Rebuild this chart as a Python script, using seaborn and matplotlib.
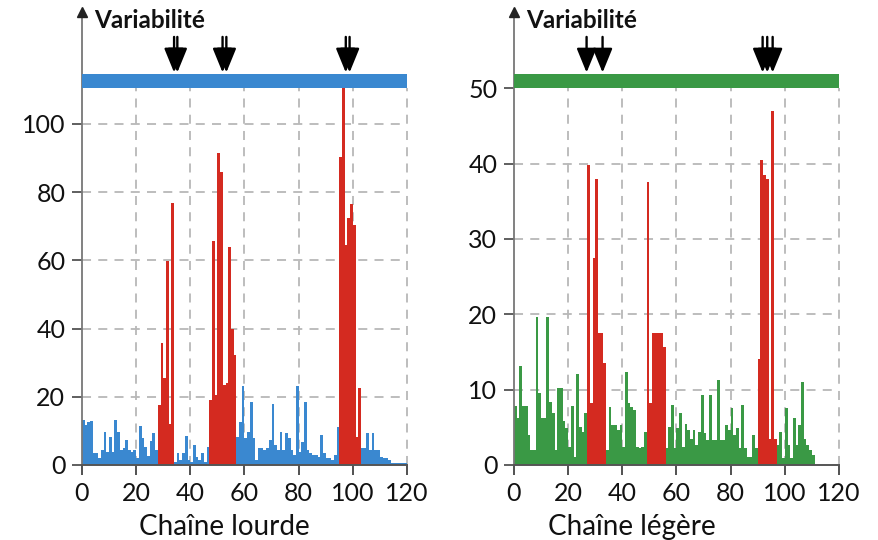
import numpy as np
import pandas as pd
import matplotlib
matplotlib.use("Agg")
import matplotlib.pyplot as plt
import seaborn as sns

# ---------------- data ----------------
x_ticks = [0, 20, 40, 60, 80, 100, 120]

heavy_values = [
    13.2, 11.8, 12.7, 13.0, 3.4, 3.4, 2.0, 4.4, 9.8, 3.9, 8.3, 3.9, 13.2, 9.8,
    4.4, 4.9, 7.4, 4.4, 3.9, 4.4, 2.0, 11.3, 7.8, 5.4, 2.6, 6.9, 9.3, 4.4,
    17.6, 35.9, 25.4, 59.9, 12.0, 76.7,
    1.0, 3.4, 1.5, 3.4, 8.5, 1.5, 1.0, 5.9, 2.4, 1.5, 3.4, 1.0, 5.4,
    19.0, 65.7, 20.5, 91.6, 86.0, 23.5, 24.0, 63.8, 40.0, 32.3,
    8.3, 12.7, 23.2, 7.8, 9.8, 18.6, 7.8, 1.5, 4.9, 4.9, 4.4, 4.9, 7.3, 18.0,
    5.9, 4.4, 9.8, 4.4, 9.3, 7.8, 4.4, 2.9, 23.2, 3.9, 6.8, 18.6, 4.4, 3.4,
    2.9, 2.9, 2.4, 8.8, 3.4, 2.0, 2.0, 1.5, 2.9, 11.2,
    90.2, 110.5, 64.5, 72.3, 76.5, 70.4, 8.3, 22.5,
    5.0, 5.0, 9.3, 4.5, 9.3, 4.4, 4.4, 2.4, 2.0, 2.0, 1.5, 0.5, 0.5, 0.5, 0.5,
    0.5, 0.5,
]
heavy_hypervariable = [(28, 33), (47, 56), (95, 102)]
heavy_arrows = [34.0, 35.2, 51.9, 53.3, 97.4, 98.8]
heavy_y_ticks = [0, 20, 40, 60, 80, 100]
heavy_band = (110.6, 114.7)
heavy_ymax = 132.8

light_values = [
    7.8, 6.2, 13.1, 7.8, 7.8, 4.0, 2.0, 2.0, 19.6, 9.5, 6.2, 6.2, 19.6, 8.4,
    6.9, 2.0, 10.2, 10.2, 5.8, 4.9, 2.4, 7.8, 1.1, 12.1, 5.1, 4.4, 6.9,
    39.8, 8.2, 27.4, 37.9, 17.5, 17.5, 13.5,
    2.0, 7.7, 5.3, 5.3, 4.6, 5.3, 2.4, 12.3, 8.2, 7.7, 7.3, 2.4, 2.2, 2.4, 4.4,
    37.6, 8.2, 17.5, 17.5, 17.5, 17.5, 15.7,
    2.2, 5.1, 8.0, 2.2, 4.9, 6.9, 2.4, 5.5, 4.6, 3.5, 4.6, 2.7, 4.4, 9.3, 4.2,
    3.3, 9.3, 3.3, 3.3, 11.3, 3.3, 3.3, 5.3, 4.6, 7.5, 4.0, 4.9, 2.2, 8.0, 2.2,
    1.1, 1.1, 4.0, 2.2,
    14.0, 40.5, 38.5, 38.0, 3.5, 47.0, 3.5,
    2.7, 4.4, 0.9, 7.5, 2.7, 0.9, 6.3, 2.7, 5.3, 11.0, 3.5, 2.7, 2.0, 1.3,
]
light_hypervariable = [(27, 33), (49, 55), (90, 96)]
light_arrows = [26.8, 32.7, 91.8, 93.5, 95.5]
light_y_ticks = [0, 10, 20, 30, 40, 50]
light_band = (50.0, 51.9)
light_ymax = 60.1

titles = ["Chaîne lourde", "Chaîne légère"]
band_label = "Variabilité"

# ---------------- style ----------------
RED = "#d42a20"
BLUE = "#3a88d0"
GREEN = "#3a9945"
GRID = "#b8b8b8"

sns.set_style("white")
plt.rcParams["font.family"] = ["Lato", "DejaVu Sans"]

fig = plt.figure(figsize=(8.79, 5.40), dpi=100)
W, H = 879, 540
ax_l = fig.add_axes([82 / W, 1 - 465 / H, 325 / W, 453 / H])
ax_r = fig.add_axes([514 / W, 1 - 465 / H, 325 / W, 453 / H])


def draw_panel(ax, values, hyper, color, band, yticks, ymax, arrows, title, title_x):
    pos = np.arange(len(values)) + 0.5
    region = ["FR"] * len(values)
    for a, b in hyper:
        for i in range(a, b + 1):
            region[i] = "CDR"
    df = pd.DataFrame({"pos": pos, "val": list(values), "region": region})
    sns.histplot(data=df, x="pos", weights="val", hue="region",
                 hue_order=["FR", "CDR"], palette={"FR": color, "CDR": RED},
                 binwidth=1, binrange=(0, 120), multiple="layer", alpha=1,
                 linewidth=0, legend=False, ax=ax, zorder=2)
    ax.set_xlim(0, 120)
    ax.set_ylim(0, ymax)

    # dashed grid
    for y in yticks[1:]:
        if y < band[0]:
            ax.plot([0, 120], [y, y], color=GRID, lw=1.3, ls=(0, (5, 4)), zorder=1)
    for x in x_ticks[1:]:
        ax.plot([x, x], [0, band[0]], color=GRID, lw=1.3, ls=(0, (5, 4)),
                zorder=1, clip_on=False)

    # coloured band
    ax.axhspan(band[0], band[1], color=color, zorder=3, lw=0)

    # arrows
    ytop = ymax * 0.945
    ytip = band[1] + (ymax - band[1]) * 0.02
    for x in arrows:
        ax.annotate("", xy=(x, ytip), xytext=(x, ytop),
                    arrowprops=dict(arrowstyle="-|>,head_length=1.1,head_width=0.45",
                                    lw=1.7, color="black", shrinkA=0, shrinkB=0,
                                    mutation_scale=13.5), zorder=4)

    ax.text(4.5, ymax * 0.982, band_label, fontsize=17.5, fontweight="bold",
            ha="left", va="center", color="#111")

    # axes
    sns.despine(ax=ax, top=True, right=True)
    ax.spines["left"].set_color("#777777")
    ax.spines["bottom"].set_color("#555555")
    ax.spines["left"].set_linewidth(1.3)
    ax.spines["bottom"].set_linewidth(1.4)
    ax.plot([0], [ymax], marker="^", color="#222222", markersize=7,
            clip_on=False, zorder=5)
    ax.set_xticks(x_ticks)
    ax.set_yticks(yticks)
    ax.tick_params(axis="both", labelsize=18, colors="#111111",
                   direction="out", length=7, width=1.2, pad=5,
                   left=True, bottom=True)
    ax.tick_params(axis="x", colors="#333333", labelcolor="#111111", length=7)
    ax.tick_params(axis="y", colors="#444444", labelcolor="#111111")
    ax.set_xlabel("")
    ax.set_ylabel("")
    ax.text(title_x, -0.137, title, transform=ax.transAxes, ha="center",
            va="center", fontsize=20, color="#111")
    ax.set_facecolor("white")


draw_panel(ax_l, heavy_values, heavy_hypervariable, BLUE, heavy_band,
           heavy_y_ticks, heavy_ymax, heavy_arrows, titles[0], 0.437)
draw_panel(ax_r, light_values, light_hypervariable, GREEN, light_band,
           light_y_ticks, light_ymax, light_arrows, titles[1], 0.363)

fig.savefig("out.png", dpi=100, facecolor="white")
